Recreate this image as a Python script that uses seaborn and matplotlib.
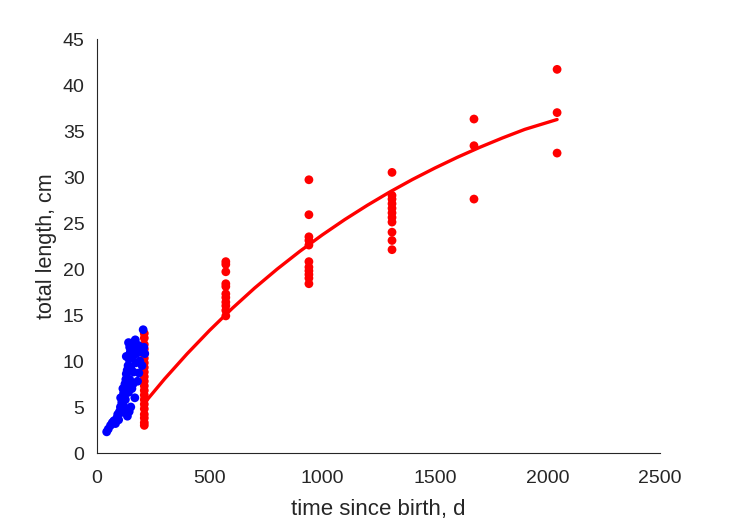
import matplotlib
matplotlib.use("Agg")
import matplotlib.pyplot as plt
import seaborn as sns
import pandas as pd

# ---- data ----
# blue (early) observations: time since birth (d), total length (cm)
blue_days = [43, 50, 60, 68, 75, 82, 88, 92, 96, 100, 104, 108, 110, 113, 116, 118,
             120, 122, 124, 126, 128, 130, 132, 134, 135, 138, 140, 142, 145, 148,
             150, 152, 155, 158, 160, 162, 165, 168, 170, 172, 175, 178, 180, 183,
             186, 190, 195, 200, 205, 208, 212, 140, 145, 130, 115, 105, 150, 160,
             125, 143]
blue_len = [2.3, 2.6, 3.0, 3.3, 3.5, 3.2, 3.8, 4.2, 3.6, 4.5, 5.0, 4.4, 5.5, 6.0, 5.2, 6.5,
            7.0, 6.2, 7.5, 5.8, 8.0, 8.6, 7.2, 9.0, 4.0, 9.5, 6.6, 10.2, 8.0, 11.0,
            9.3, 11.8, 7.0, 10.5, 12.0, 8.8, 11.5, 6.0, 12.3, 9.8, 10.8, 11.2, 7.8, 11.7,
            8.7, 10.0, 11.0, 9.5, 13.4, 11.5, 10.8, 12.0, 11.5, 10.5, 7.0, 6.0, 5.0, 7.5,
            4.8, 4.5]

# red (later) observations, grouped by sampling age
red_age_1 = 210
red_len_1 = [13.0, 12.5, 11.8, 11.3, 10.8, 10.3, 9.8, 9.3, 8.8, 8.3, 7.8, 7.3, 6.8,
             6.3, 5.8, 5.3, 4.8, 4.2, 3.8, 3.3, 3.0]
red_age_2 = 572
red_len_2 = [20.8, 20.5, 19.7, 18.4, 18.1, 17.3, 16.9, 16.4, 16.0, 15.5, 14.9]
red_age_3 = 941
red_len_3 = [29.7, 25.9, 23.5, 23.1, 22.6, 20.8, 20.2, 19.8, 19.4, 19.0, 18.4]
red_age_4 = 1310
red_len_4 = [30.5, 28.0, 27.6, 27.1, 26.6, 26.1, 25.6, 25.1, 24.0, 23.1, 22.1]
red_age_5 = 1674
red_len_5 = [36.3, 33.4, 27.6]
red_age_6 = 2043
red_len_6 = [41.7, 37.0, 32.6]

# fitted growth curve
curve_days = [213, 300, 400, 500, 600, 700, 800, 900, 1000, 1100, 1200, 1300,
              1400, 1500, 1600, 1700, 1800, 1900, 2043]
curve_len = [5.50, 8.05, 10.78, 13.33, 15.71, 17.93, 19.99, 21.91, 23.70, 25.37,
             26.92, 28.37, 29.72, 30.97, 32.14, 33.23, 34.24, 35.18, 36.25]

x_ticks = [0, 500, 1000, 1500, 2000, 2500]
y_ticks = [0, 5, 10, 15, 20, 25, 30, 35, 40, 45]

# ---- build tables ----
red_groups = [(red_age_1, red_len_1), (red_age_2, red_len_2), (red_age_3, red_len_3),
              (red_age_4, red_len_4), (red_age_5, red_len_5), (red_age_6, red_len_6)]
red_df = pd.DataFrame({
    "days": [a for a, ls in red_groups for _ in ls],
    "length": [v for _, ls in red_groups for v in ls],
})
blue_df = pd.DataFrame({"days": blue_days, "length": blue_len})
curve_df = pd.DataFrame({"days": curve_days, "length": curve_len})

sns.set_style("white")
plt.rcParams["font.family"] = ["Liberation Sans", "DejaVu Sans"]

fig = plt.figure(figsize=(7.29, 5.21), dpi=100)
ax = fig.add_axes([97 / 729, 1 - 453 / 521, (660 - 97) / 729, (453 - 39) / 521])

sns.scatterplot(data=red_df, x="days", y="length", ax=ax, color="#ff0000",
                s=40, edgecolor="none", linewidth=0, zorder=3)
sns.lineplot(data=curve_df, x="days", y="length", ax=ax, color="#ff0000",
             linewidth=2.4, zorder=4)
sns.scatterplot(data=blue_df, x="days", y="length", ax=ax, color="#0000ff",
                s=40, edgecolor="none", linewidth=0, zorder=5)

ax.set_xlim(0, 2500)
ax.set_ylim(0, 45)
ax.set_xticks(x_ticks)
ax.set_yticks(y_ticks)
ax.set_xticklabels([str(t) for t in x_ticks])
ax.set_yticklabels([str(t) for t in y_ticks])

axis_col = "#262626"
for side in ["top", "right"]:
    ax.spines[side].set_visible(False)
for side in ["left", "bottom"]:
    ax.spines[side].set_color(axis_col)
    ax.spines[side].set_linewidth(0.8)
ax.tick_params(direction="in", length=4, width=0.8, colors=axis_col,
               labelsize=14, pad=9)
ax.tick_params(axis="x", pad=12)
ax.set_xlabel("time since birth, d", fontsize=16, color=axis_col, labelpad=9)
ax.set_ylabel("total length, cm", fontsize=15.5, color=axis_col, labelpad=4)

fig.savefig("out.png", dpi=100)
